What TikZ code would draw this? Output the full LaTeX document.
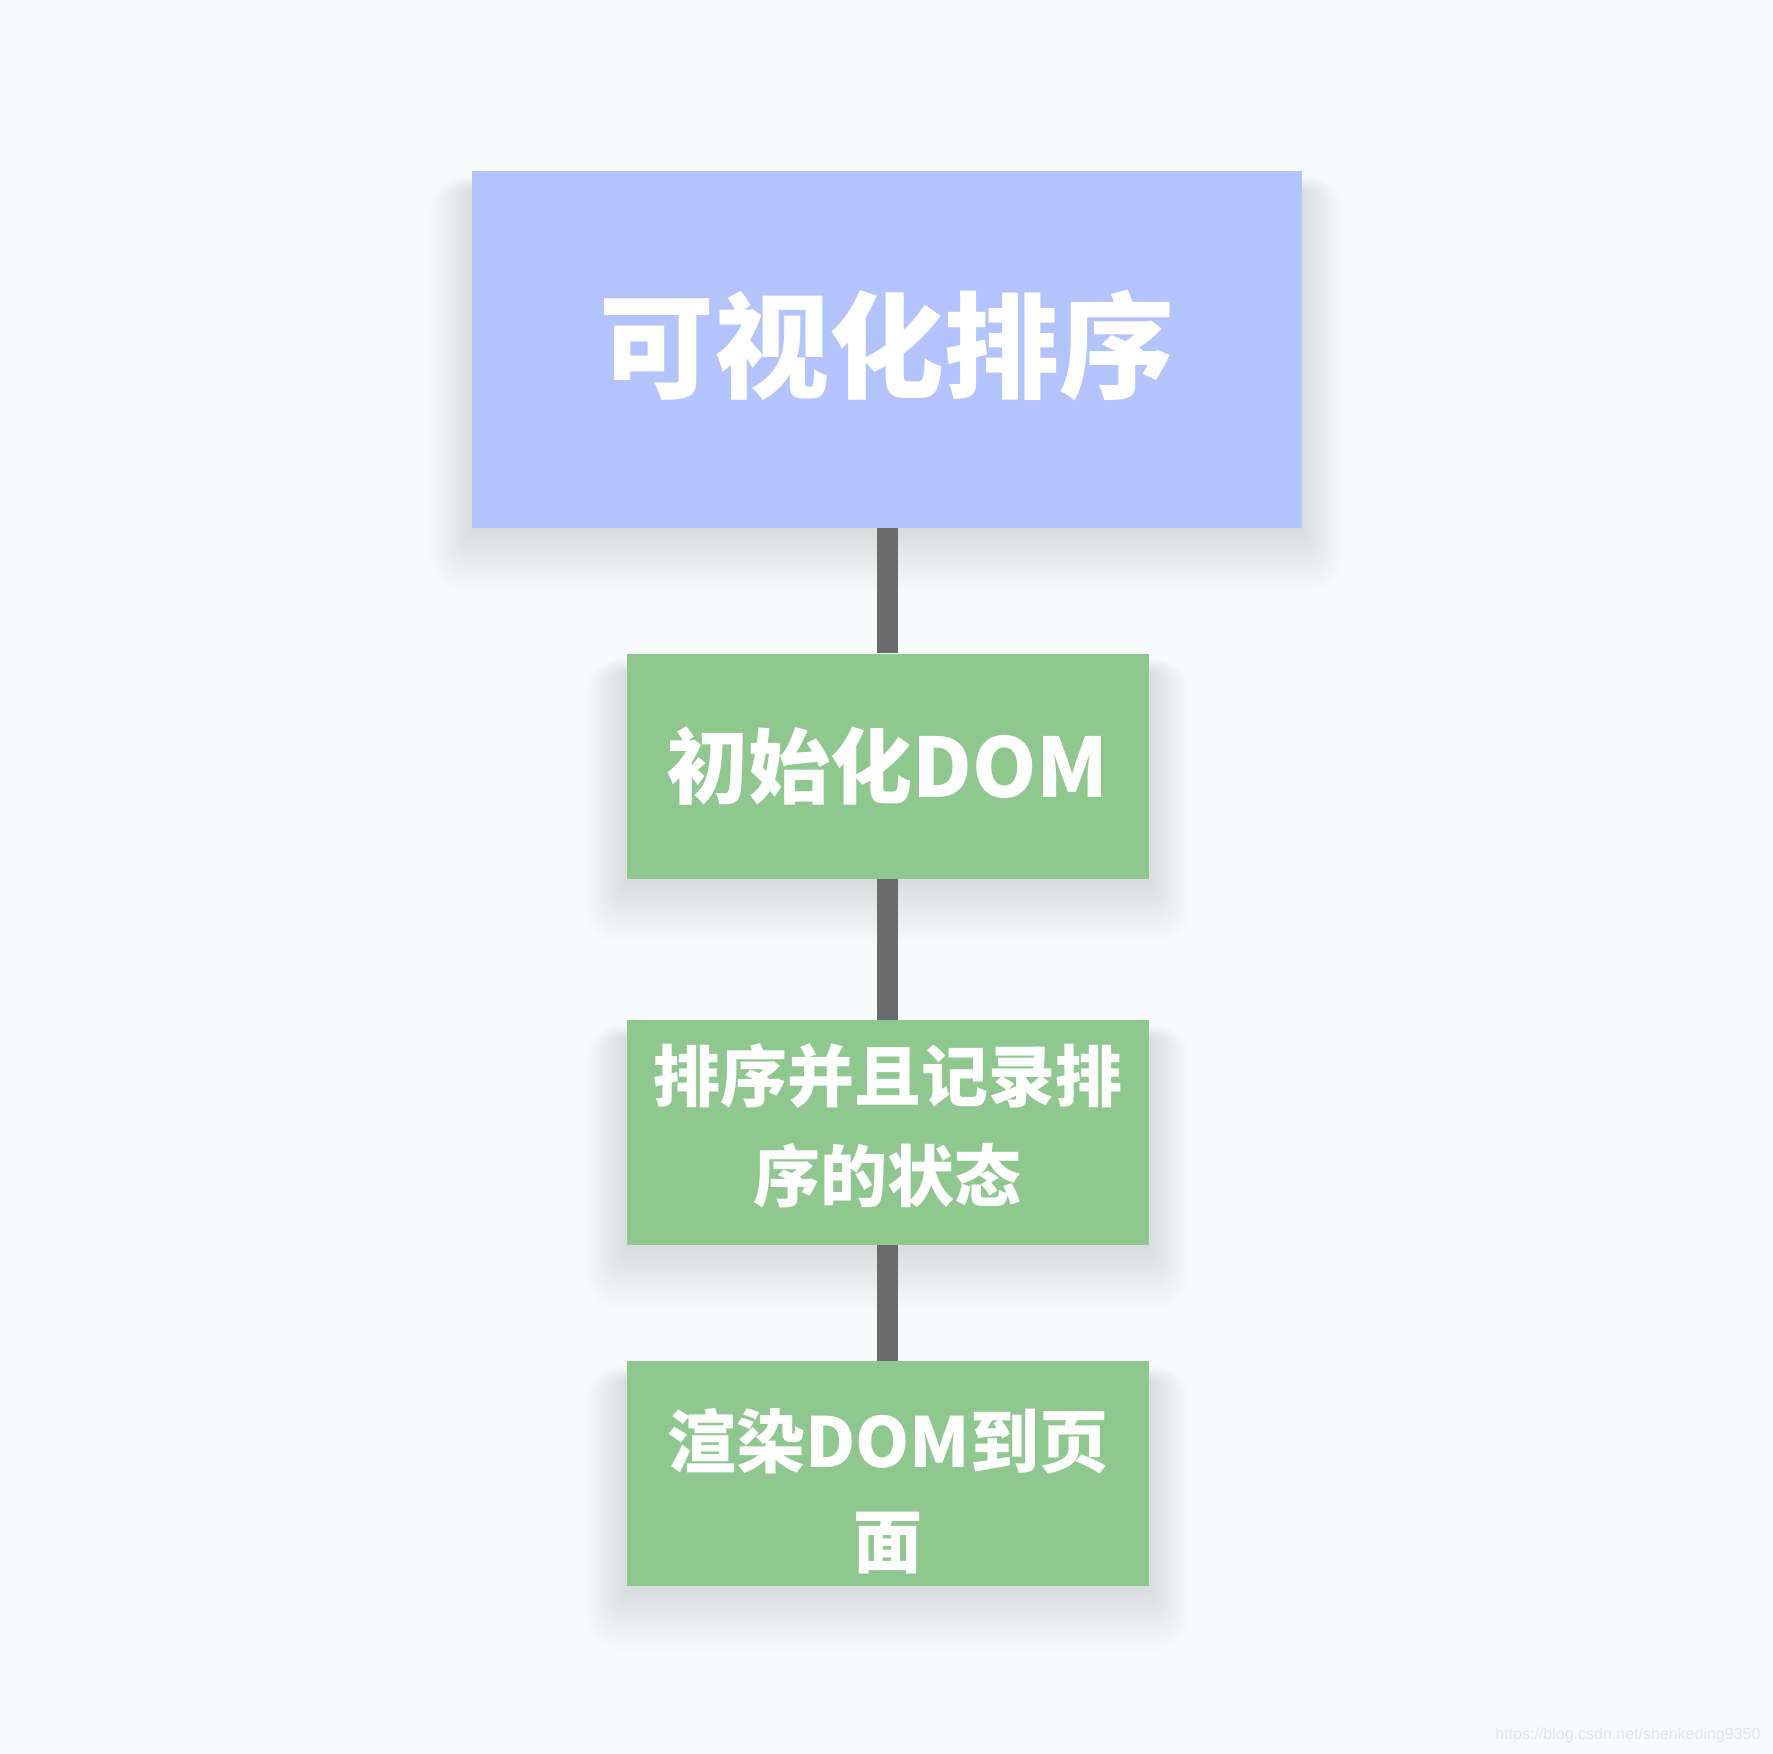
\documentclass[tikz,border=0pt]{standalone}
\usepackage{fontspec}
\setmainfont{Noto Sans CJK SC}
\newfontfamily\wmfont{Liberation Sans}
\usetikzlibrary{backgrounds}
\definecolor{bgcol}{HTML}{F7FBFC}
\definecolor{topcol}{HTML}{B3C4FD}
\definecolor{greencol}{HTML}{8EC88E}
\definecolor{linkcol}{HTML}{6B6B6B}
\definecolor{wmcol}{HTML}{E2E6E8}
\definecolor{shadowcol}{HTML}{3A5246}
\tikzset{
  titlebox/.style={rectangle, fill=topcol, draw=none, minimum width=830pt, minimum height=357pt, inner sep=0pt},
  titletext/.style={text=white, inner sep=0pt, font=\bfseries\fontsize{115}{130}\selectfont},
  stepbox/.style={rectangle, fill=greencol, draw=none, minimum width=522pt, minimum height=225pt, inner sep=0pt,
    text=white, align=center},
  steptext/.style={text=white, align=center, inner sep=0pt},
  link/.style={draw=linkcol, line width=21pt},
}
\newcommand{\softshadow}[1]{%
  \foreach \k in {1,...,30}{%
    \fill[shadowcol, opacity=0.0042, rounded corners=\k*1.2pt]
      ([xshift=-\k*1.4pt, yshift=\k*0.5pt-20pt]#1.north west) rectangle ([xshift=\k*1.4pt, yshift=-\k*2.1pt-2pt]#1.south east);
  }}
\begin{document}
\begin{tikzpicture}[x=1pt,y=-1pt]
\useasboundingbox (0,0) rectangle (1773,1754);
\node[titlebox] (top) at (886.5,349.4) {};
\node[titletext] (tt) at (886.5,346) {可视化排序};
\node[stepbox, font=\bfseries\fontsize{82}{95}\selectfont] (b1) at (887.6,766) {初始化DOM};
\node[stepbox] (b2) at (887.6,1132.4) {};
\node[steptext, font=\bfseries\fontsize{67}{100}\selectfont] (t2) at (887.6,1126) {排序并且记录排\\序的状态};
\node[stepbox] (b3) at (887.6,1473.9) {};
\node[steptext, font=\bfseries\fontsize{69}{100}\selectfont] (t3) at (887.6,1491) {渲染DOM到页\\面};
\draw[link] (top.south -| b1.north) -- (b1.north);
\draw[link] (b1.south) -- (b2.north);
\draw[link] (b2.south) -- (b3.north);
\node[anchor=east, text=wmcol, font=\wmfont\fontsize{16}{18}\selectfont] (wm) at (1764,1735) {https://blog.csdn.net/shenkeding9350};
\begin{scope}[on background layer]
  \fill[bgcol] (0,0) rectangle (1773,1754);
  \softshadow{top}
  \softshadow{b1}
  \softshadow{b2}
  \softshadow{b3}
\end{scope}
\end{tikzpicture}
\end{document}
